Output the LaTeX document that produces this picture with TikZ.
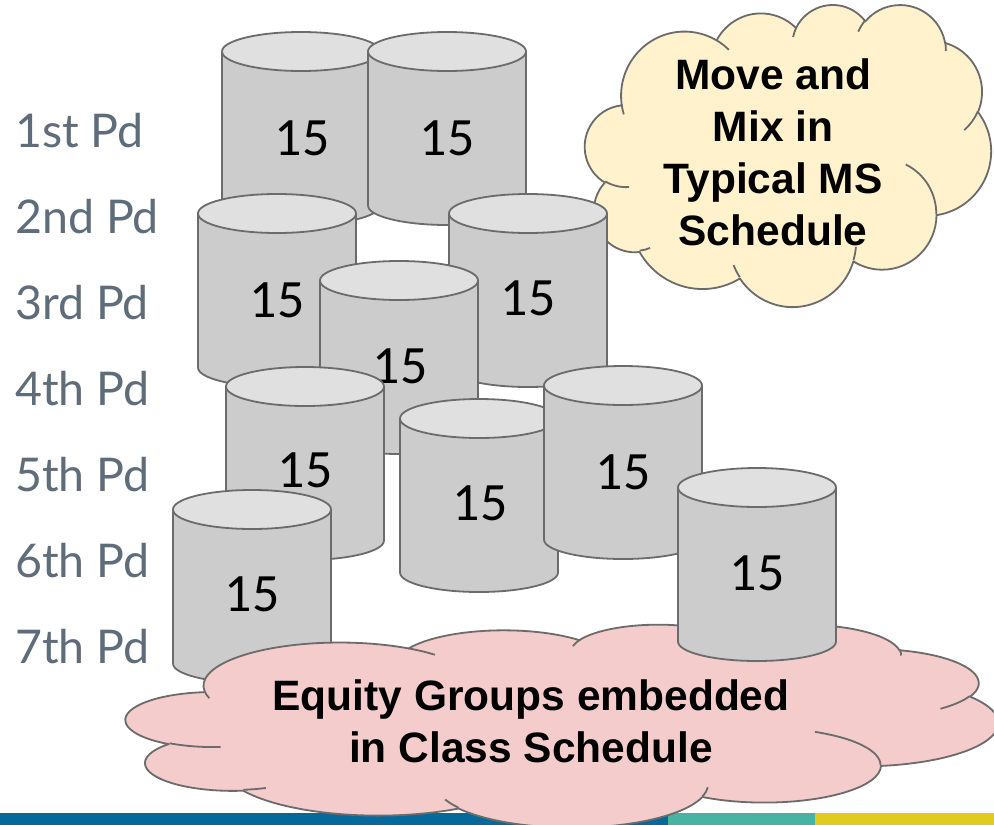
\documentclass[tikz,border=0pt]{standalone}
\usepackage{fontspec}
\newfontfamily\pdfont{Lato}
\newfontfamily\numfont{Carlito}
\newfontfamily\notefont{Liberation Sans}
\definecolor{cylbody}{HTML}{CCCCCC}
\definecolor{cyltop}{HTML}{E0E0E0}
\definecolor{cylline}{HTML}{6B6B6B}
\definecolor{pdgray}{HTML}{5F6C79}
\definecolor{moveyellow}{HTML}{FFF2CC}
\definecolor{equitypink}{HTML}{F4CCCC}
\definecolor{barblue}{HTML}{06699B}
\definecolor{barteal}{HTML}{48B2A3}
\definecolor{baryellow}{HTML}{E0CC20}
\tikzset{
    outline/.style={draw=cylline, line width=1.8pt, line join=round},
    seat/.pic={
        \filldraw[outline, fill=cylbody] (-79,0) -- (-79,154)
            arc[start angle=180, end angle=0, x radius=79, y radius=19.5] -- (79,0) -- cycle;
        \filldraw[outline, fill=cyltop] (0,0) ellipse[x radius=79, y radius=19.5];
    },
    puffcloud/.pic={
        \filldraw[outline, fill=#1] (3.9,14.37)
            arc[start angle=-187.745, end angle=-59.64, x radius=6.753, y radius=9.19]
            arc[start angle=-152.02, end angle=-45.44, x radius=5.333, y radius=7.267]
            arc[start angle=-153.49, end angle=-37.33, x radius=4.365, y radius=5.945]
            arc[start angle=-139.71, end angle=-10.21, x radius=4.857, y radius=6.595]
            arc[start angle=-74.77, end angle=23.21, x radius=5.333, y radius=7.273]
            arc[start angle=-37.51, end angle=81.86, x radius=6.775, y radius=9.22]
            arc[start angle=0.46, end angle=121.97, x radius=5.785, y radius=7.867]
            arc[start angle=16.84, end angle=146.21, x radius=6.752, y radius=9.215]
            arc[start angle=58.98, end angle=150.19, x radius=7.72, y radius=10.543]
            arc[start angle=-276.69, end angle=-136.89, x radius=4.36, y radius=5.918]
            arc[start angle=-239.64, end angle=-95.89, x radius=4.345, y radius=5.945]
            -- cycle;
        \draw[outline] (4.693,26.177) arc[start angle=85.55, end angle=120.36, x radius=4.345, y radius=5.945];
        \draw[outline] (6.928,34.899) arc[start angle=68.24, end angle=83.30, x radius=4.36, y radius=5.918];
        \draw[outline] (16.478,39.09) arc[start angle=146.21, end angle=158.47, x radius=6.752, y radius=9.215];
        \draw[outline] (28.827,34.751) arc[start angle=4.74, end angle=16.84, x radius=6.752, y radius=9.215];
        \draw[outline] (34.129,22.954) arc[start angle=-64.02, end angle=0.46, x radius=5.785, y radius=7.867];
        \draw[outline] (41.798,15.354) arc[start angle=23.21, end angle=49.63, x radius=5.333, y radius=7.273];
        \draw[outline] (38.324,5.426) arc[start angle=-10.21, end angle=0.82, x radius=4.857, y radius=6.595];
        \draw[outline] (29.078,3.952) arc[start angle=-156.28, end angle=-139.71, x radius=4.857, y radius=6.595];
        \draw[outline] (22.141,4.72) arc[start angle=-167.73, end angle=-153.49, x radius=4.365, y radius=5.945];
        \draw[outline] (14.0,5.192) arc[start angle=-59.64, end angle=-45.71, x radius=6.753, y radius=9.19];
        \draw[outline] (4.127,15.789) arc[start angle=163.19, end angle=172.25, x radius=6.753, y radius=9.19];
    },
    seatcount/.style={font=\numfont\fontsize{54}{60}\selectfont, inner sep=0pt},
    periodlabel/.style={font=\pdfont\fontsize{46.5}{50}\selectfont, text=pdgray, anchor=base west, inner sep=0pt},
    puffnote/.style={font=\notefont\bfseries\fontsize{42.5}{52}\selectfont, align=center, inner sep=0pt}
}
\begin{document}
\begin{tikzpicture}[x=1pt, y=-1pt]
\useasboundingbox (0,0) rectangle (994,825);
\fill[barblue]   (0,813)   rectangle (668,825);
\fill[barteal]   (668,813) rectangle (815,825);
\fill[baryellow] (815,813) rectangle (994,825);

\node[periodlabel] (pd1) at (15,147) {1st Pd};
\node[periodlabel] (pd2) at (15,233) {2nd Pd};
\node[periodlabel] (pd3) at (15,319) {3rd Pd};
\node[periodlabel] (pd4) at (15,405) {4th Pd};
\node[periodlabel] (pd5) at (15,491) {5th Pd};
\node[periodlabel] (pd6) at (15,577) {6th Pd};
\node[periodlabel] (pd7) at (15,663) {7th Pd};

\begin{scope}[shift={(585,4)}, x=9.398pt, y=-6.991pt]
    \pic (movecloud) {puffcloud=moveyellow};
\end{scope}
\node[puffnote] (movetxt) at (773,152) {Move and\\Mix in\\Typical MS\\Schedule};

\pic (seatA) at (301,51.5)  {seat}; \node[seatcount] (nA) at (302,138) {15};
\pic (seatB) at (447,51.5)  {seat}; \node[seatcount] (nB) at (447,138) {15};
\pic (seatD) at (528,213.5) {seat}; \node[seatcount] (nD) at (528,298) {15};
\pic (seatC) at (277,213.5) {seat}; \node[seatcount] (nC) at (277,300) {15};
\pic (seatE) at (399,280.5) {seat}; \node[seatcount] (nE) at (400,366) {15};
\pic (seatG) at (479,418.5) {seat}; \node[seatcount] (nG) at (480,503) {15};
\pic (seatH) at (623,385.5) {seat}; \node[seatcount] (nH) at (623,472) {15};
\pic (seatF) at (305,386.5) {seat}; \node[seatcount] (nF) at (305,470) {15};
\pic (seatI) at (252,509.5) {seat}; \node[seatcount] (nI) at (252,594) {15};

\begin{scope}[shift={(126,624)}, x=20.185pt, y=-4.699pt]
    \pic (equitycloud) {puffcloud=equitypink};
\end{scope}
\node[puffnote] (equitytxt) at (531,721) {Equity Groups embedded\\in Class Schedule};

\pic (seatJ) at (757,487.5) {seat}; \node[seatcount] (nJ) at (757,573) {15};
\end{tikzpicture}
\end{document}
